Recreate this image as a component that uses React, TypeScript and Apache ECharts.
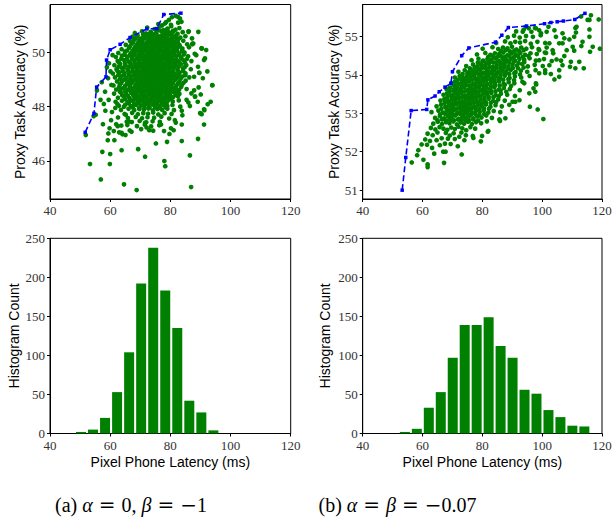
import React, { useEffect, useRef } from "react";
import * as echarts from "echarts";

// ---------- tick labels ----------
const latencyTicks = [40, 60, 80, 100, 120];
const accTicksA = [46, 48, 50];
const accTicksB = [51, 52, 53, 54, 55];
const countTicks = [0, 50, 100, 150, 200, 250];

// ---------- (a) scatter: [latency ms, accuracy %] ----------
const scatterA: number[][] = [
  // top band
  [79.5,51.2],[80.5,51.3],[81.8,51.35],[82.6,51.1],[83.2,51.25],[80.2,51.02],[78.6,51.12],[82.6,51.31],[83.7,51.13],[78.2,51.07],[77.3,51.0],[76.0,51.05],
  // core rows
  [72.3,50.92],[74.8,50.86],[76.4,50.95],[77.6,50.82],[79.1,50.88],[80.3,50.97],[81.7,50.84],[83.0,50.9],
  [75.8,50.82],[78.5,50.83],[80.9,50.8],
  [68.2,50.72],[70.6,50.78],[71.9,50.7],[73.5,50.76],[75.1,50.71],[76.9,50.79],[78.3,50.68],[79.6,50.74],[81.0,50.77],[82.4,50.69],[84.1,50.75],[86.1,50.78],
  [71.0,50.67],[72.6,50.68],[74.0,50.67],[75.4,50.69],[77.5,50.67],[79.0,50.68],[80.4,50.66],
  [67.4,50.58],[69.1,50.62],[70.8,50.55],[72.0,50.63],[73.2,50.57],[74.4,50.64],[75.7,50.59],[76.8,50.61],[78.0,50.56],[79.3,50.65],[80.5,50.58],[81.8,50.62],[83.3,50.55],[85.0,50.6],[87.2,50.52],
  [68.4,50.52],[70.0,50.5],[71.4,50.53],[72.7,50.51],[74.0,50.52],[75.3,50.5],[76.5,50.53],[77.8,50.51],[79.1,50.52],[80.5,50.5],[81.9,50.53],
  [66.6,50.42],[68.0,50.47],[69.6,50.44],[70.9,50.49],[72.5,50.41],[73.8,50.46],[74.9,50.43],[76.1,50.48],[77.4,50.42],[78.7,50.47],[79.9,50.44],[81.2,50.4],[82.6,50.48],[84.3,50.43],[87.4,50.33],
  [67.6,50.37],[69.2,50.35],[70.6,50.38],[72.0,50.36],[73.3,50.37],[74.6,50.35],[75.9,50.38],[77.2,50.36],[78.5,50.37],[79.8,50.35],[81.1,50.38],[82.5,50.36],
  [65.2,50.28],[67.1,50.32],[68.8,50.27],[70.2,50.31],[71.4,50.26],[72.9,50.33],[74.1,50.29],[75.4,50.25],[76.6,50.34],[77.8,50.28],[79.2,50.31],[80.4,50.26],[81.7,50.33],[83.0,50.27],[85.6,50.3],[90.4,50.15],
  [66.5,50.22],[68.2,50.2],[69.8,50.23],[71.1,50.21],[72.4,50.22],[73.7,50.2],[75.0,50.23],[76.3,50.21],[77.6,50.22],[78.9,50.2],[80.2,50.23],[81.6,50.21],[83.2,50.22],
  [63.8,50.12],[66.3,50.17],[67.9,50.13],[69.4,50.18],[70.6,50.11],[71.8,50.16],[73.1,50.14],[74.5,50.19],[75.8,50.12],[77.0,50.17],[78.4,50.13],[79.7,50.18],[81.0,50.11],[82.3,50.16],[84.0,50.14],[86.2,50.19],[91.9,50.09],
  [65.6,50.07],[67.4,50.05],[69.0,50.08],[70.3,50.06],[71.6,50.07],[72.9,50.05],[74.2,50.08],[75.5,50.06],[76.8,50.07],[78.1,50.05],[79.4,50.08],[80.8,50.06],[82.2,50.07],[83.8,50.05],
  [62.7,49.98],[64.9,50.03],[66.8,49.97],[68.3,50.02],[69.9,49.99],[71.1,50.04],[72.4,49.96],[73.6,50.01],[74.8,49.98],[76.2,50.03],[77.5,49.97],[78.8,50.02],[80.1,49.99],[81.5,50.04],[82.9,49.96],[84.7,50.0],[88.1,49.95],
  [64.8,49.92],[66.5,49.9],[68.1,49.93],[69.5,49.91],[70.8,49.92],[72.1,49.9],[73.4,49.93],[74.7,49.91],[76.0,49.92],[77.3,49.9],[78.6,49.93],[79.9,49.91],[81.3,49.92],[82.8,49.9],[84.5,49.93],
  [61.9,49.83],[63.9,49.88],[65.7,49.84],[67.5,49.87],[69.0,49.82],[70.3,49.86],[71.6,49.83],[72.8,49.89],[74.0,49.84],[75.3,49.87],[76.5,49.82],[77.9,49.88],[79.2,49.85],[80.6,49.81],[82.0,49.87],[83.6,49.83],[85.9,49.86],[91.2,49.72],
  [63.7,49.77],[65.5,49.75],[67.2,49.78],[68.7,49.76],[70.1,49.77],[71.4,49.75],[72.7,49.78],[74.0,49.76],[75.3,49.77],[76.6,49.75],[77.9,49.78],[79.2,49.76],[80.6,49.77],[82.0,49.75],[83.6,49.78],[85.5,49.76],
  [62.5,49.68],[64.6,49.72],[66.2,49.66],[67.9,49.71],[69.5,49.69],[70.8,49.73],[72.0,49.67],[73.3,49.72],[74.6,49.68],[75.9,49.71],[77.1,49.66],[78.5,49.73],[79.8,49.69],[81.2,49.72],[82.6,49.67],[84.4,49.71],[87.0,49.68],
  [63.0,49.62],[64.9,49.6],[66.6,49.63],[68.2,49.61],[69.6,49.62],[70.9,49.6],[72.2,49.63],[73.5,49.61],[74.8,49.62],[76.1,49.6],[77.4,49.63],[78.7,49.61],[80.1,49.62],[81.5,49.6],[83.0,49.63],[84.9,49.61],
  [61.4,49.53],[63.3,49.57],[65.1,49.52],[66.9,49.56],[68.5,49.54],[69.9,49.58],[71.2,49.51],[72.6,49.56],[73.9,49.53],[75.1,49.57],[76.4,49.52],[77.7,49.56],[79.0,49.54],[80.4,49.58],[81.9,49.52],[83.5,49.56],[85.3,49.53],[89.2,49.47],
  [62.8,49.47],[64.6,49.45],[66.3,49.48],[67.9,49.46],[69.3,49.47],[70.6,49.45],[71.9,49.48],[73.2,49.46],[74.5,49.47],[75.8,49.45],[77.1,49.48],[78.4,49.46],[79.8,49.47],[81.2,49.45],[82.8,49.48],[84.8,49.46],
  [62.1,49.38],[64.0,49.42],[65.8,49.37],[67.4,49.41],[69.0,49.39],[70.4,49.43],[71.7,49.36],[73.0,49.41],[74.3,49.38],[75.6,49.42],[76.9,49.37],[78.2,49.41],[79.5,49.39],[80.9,49.43],[82.4,49.37],[84.2,49.41],[86.8,49.38],
  [62.4,49.32],[64.2,49.3],[65.9,49.33],[67.5,49.31],[68.9,49.32],[70.2,49.3],[71.5,49.33],[72.8,49.31],[74.1,49.32],[75.4,49.3],[76.7,49.33],[78.0,49.31],[79.4,49.32],[80.8,49.3],[82.4,49.33],[84.3,49.31],
  [60.9,49.22],[63.0,49.27],[64.8,49.23],[66.5,49.26],[68.1,49.24],[69.6,49.28],[70.9,49.21],[72.2,49.26],[73.5,49.23],[74.8,49.27],[76.1,49.22],[77.4,49.26],[78.7,49.24],[80.1,49.28],[81.6,49.21],[83.1,49.26],[85.0,49.23],[89.6,49.25],
  [62.7,49.17],[64.5,49.15],[66.2,49.18],[67.8,49.16],[69.2,49.17],[70.5,49.15],[71.8,49.18],[73.1,49.16],[74.4,49.17],[75.7,49.15],[77.0,49.18],[78.3,49.16],[79.7,49.17],[81.1,49.15],[82.8,49.18],[85.0,49.16],
  [61.6,49.08],[63.6,49.12],[65.4,49.07],[67.0,49.11],[68.7,49.09],[70.0,49.13],[71.4,49.06],[72.7,49.11],[74.0,49.08],[75.3,49.12],[76.6,49.07],[77.9,49.11],[79.3,49.09],[80.7,49.13],[82.2,49.07],[84.0,49.11],[86.3,49.08],
  [63.2,49.02],[65.0,49.0],[66.7,49.03],[68.2,49.01],[69.6,49.02],[70.9,49.0],[72.2,49.03],[73.5,49.01],[74.8,49.02],[76.1,49.0],[77.4,49.03],[78.8,49.01],[80.2,49.02],[81.7,49.0],[83.4,49.03],
  [62.3,48.93],[64.2,48.97],[66.0,48.92],[67.7,48.96],[69.2,48.94],[70.6,48.98],[71.9,48.91],[73.2,48.96],[74.6,48.93],[75.9,48.97],[77.2,48.92],[78.5,48.96],[79.9,48.94],[81.4,48.98],[83.0,48.92],[85.1,48.96],
  [63.7,48.87],[65.6,48.85],[67.2,48.88],[68.8,48.86],[70.2,48.87],[71.5,48.85],[72.8,48.88],[74.1,48.86],[75.4,48.87],[76.7,48.85],[78.0,48.88],[79.4,48.86],[80.9,48.87],[82.5,48.85],[84.4,48.88],
  [61.1,48.78],[63.2,48.82],[65.0,48.77],[66.7,48.81],[68.4,48.79],[69.8,48.83],[71.1,48.76],[72.4,48.81],[73.7,48.78],[75.0,48.82],[76.3,48.77],[77.6,48.81],[79.0,48.79],[80.5,48.83],[82.0,48.77],[83.8,48.81],[89.4,48.71],[94.0,48.79],
  [63.0,48.72],[64.8,48.7],[66.5,48.73],[68.1,48.71],[69.5,48.72],[70.8,48.7],[72.1,48.73],[73.4,48.71],[74.7,48.72],[76.0,48.7],[77.3,48.73],[78.7,48.71],[80.2,48.72],[81.8,48.7],[83.6,48.73],
  [62.0,48.63],[64.1,48.67],[65.9,48.62],[67.5,48.66],[69.1,48.64],[70.5,48.68],[71.8,48.61],[73.1,48.66],[74.4,48.63],[75.7,48.67],[77.0,48.62],[78.4,48.66],[79.8,48.64],[81.3,48.68],[82.9,48.62],[85.4,48.65],[87.9,48.6],
  [63.2,48.57],[65.0,48.55],[66.7,48.58],[68.3,48.56],[69.8,48.57],[71.1,48.55],[72.4,48.58],[73.7,48.56],[75.0,48.57],[76.3,48.55],[77.6,48.58],[79.0,48.56],[80.5,48.57],[82.1,48.55],
  [61.3,48.48],[63.5,48.52],[65.3,48.47],[67.0,48.51],[68.6,48.49],[70.1,48.53],[71.4,48.46],[72.8,48.51],[74.1,48.48],[75.5,48.52],[76.8,48.47],[78.2,48.51],[79.7,48.49],[81.2,48.53],[83.0,48.47],[87.0,48.49],
  [64.0,48.42],[65.9,48.4],[67.6,48.43],[69.2,48.41],[70.6,48.42],[71.9,48.4],[73.2,48.43],[74.5,48.41],[75.8,48.42],[77.1,48.4],[78.5,48.43],[80.0,48.41],[81.7,48.42],
  [62.6,48.33],[64.6,48.37],[66.4,48.32],[68.0,48.36],[69.6,48.34],[71.0,48.38],[72.3,48.31],[73.7,48.36],[75.1,48.33],[76.4,48.37],[77.8,48.32],[79.3,48.36],[80.8,48.34],[82.5,48.38],[85.4,48.25],[88.2,48.37],
  [65.0,48.27],[66.8,48.25],[68.5,48.28],[70.0,48.26],[71.4,48.27],[72.8,48.25],[74.2,48.28],[75.6,48.26],[77.0,48.27],[78.5,48.25],[80.1,48.28],
  [61.8,48.18],[63.9,48.22],[65.8,48.17],[67.5,48.21],[69.1,48.19],[70.6,48.23],[72.0,48.16],[73.4,48.21],[74.8,48.18],[76.2,48.22],[77.6,48.17],[79.1,48.21],[80.8,48.19],[82.8,48.23],[86.0,48.15],[93.4,48.18],
  [66.2,48.12],[68.0,48.1],[69.7,48.13],[71.2,48.11],[72.7,48.12],[74.1,48.1],[75.6,48.13],[77.1,48.11],[78.7,48.12],
  [62.9,48.03],[65.0,48.07],[66.9,48.02],[68.6,48.06],[70.2,48.04],[71.6,48.08],[73.0,48.01],[74.5,48.06],[76.0,48.03],[77.5,48.07],[79.0,48.02],[80.7,48.06],[83.3,48.0],[91.2,47.9],
  [67.5,47.97],[69.6,47.95],[71.4,47.98],[73.1,47.96],[74.9,47.97],[76.6,47.95],[78.4,47.98],
  [63.6,47.88],[66.1,47.92],[68.0,47.87],[69.7,47.91],[71.2,47.89],[72.7,47.93],[74.2,47.86],[75.7,47.91],[77.3,47.88],[79.0,47.92],[81.2,47.87],[89.9,47.76],
  [64.8,47.73],[67.3,47.77],[69.2,47.72],[71.0,47.76],[72.6,47.74],[74.3,47.78],[76.0,47.71],[78.1,47.76],[80.4,47.73],[84.0,47.68],
  [65.9,47.58],[68.5,47.62],[70.6,47.57],[72.4,47.61],[74.6,47.59],[77.0,47.63],[79.6,47.56],
  [67.2,47.43],[69.8,47.47],[72.0,47.42],[74.1,47.46],[76.5,47.44],[81.8,47.41],
  [65.7,47.32],[68.9,47.28],[71.5,47.33],[73.6,47.27],[76.3,47.31],
  [66.5,47.12],[70.3,47.17],[73.0,47.13],[77.9,47.1],[80.2,47.2],
  // left fringe
  [51.9,46.95],[54.5,47.65],[55.6,48.6],[56.8,48.25],[57.2,48.9],[57.9,48.1],[58.3,48.55],[58.9,49.45],[59.3,49.05],[59.6,49.6],[60.1,49.3],[60.4,48.8],[60.8,49.9],[61.7,47.95],[62.6,47.6],[63.7,47.3],[64.6,48.0],[65.2,47.7],[66.3,47.45],[59.8,47.2],[60.3,47.5],[61.2,47.1],[62.0,47.35],[63.0,47.05],[64.1,46.98],[65.1,46.95],[58.4,47.85],[59.5,48.25],[60.6,47.8],[62.4,48.1],[57.6,47.35],[55.2,47.7],
  // lower / right scattered points
  [62.5,47.28],[63.8,47.03],[67.1,47.07],[65.5,47.44],[71.6,47.4],[72.1,47.23],[74.3,47.11],[76.9,47.34],[79.7,46.99],[81.1,47.13],[81.5,47.5],[83.8,47.34],[83.8,47.85],[86.5,48.02],[90.4,47.72],[89.1,48.18],[91.3,47.87],[92.4,48.09],
  [89.3,50.76],[91.5,49.78],[93.9,48.79],[90.4,50.15],[87.3,50.3],[86.0,50.76],[87.6,50.33],[89.6,49.25],[88.2,48.37],[90.8,49.05],[92.3,49.3],[88.6,49.9],[87.9,49.1],[90.1,48.45],
  // outliers
  [53.3,45.88],[56.9,45.31],[57.4,46.33],[60.0,46.25],[59.9,45.88],[63.8,46.39],[64.6,45.13],[68.8,44.92],[69.3,46.43],[71.6,46.15],[75.2,46.64],[78.0,45.99],[78.3,45.8],[78.9,46.7],[83.8,46.73],[86.5,46.2],[86.9,45.03],[89.2,46.81],[91.2,47.34],[59.4,47.01],[61.4,46.76],[59.2,46.76],
];

// Pareto frontier of (a)
const frontierA: number[][] = [
  [51.7,47.05],[54.6,47.75],[55.5,48.72],[58.6,49.1],[58.8,49.72],[60.0,50.1],[63.3,50.3],[66.6,50.55],[72.2,50.87],[75.5,50.88],[77.8,51.4],[83.5,51.45],
];

// ---------- (b) scatter ----------
const scatterB: number[][] = [
  // lower fringe
  [56.4,51.72],[58.2,51.91],[58.6,52.04],[59.7,52.19],[60.3,51.79],[61.7,51.67],[61.7,51.6],[63.9,51.95],[64.7,52.3],[65.8,52.17],[66.9,52.0],[67.7,52.0],[67.2,51.71],[67.5,52.21],[70.8,52.33],[73.1,51.93],[77.0,52.36],[79.5,52.27],
  [61.5,52.18],[63.2,52.1],[69.4,52.2],[71.8,52.14],
  [60.9,52.32],[62.5,52.28],[66.4,52.35],[68.5,52.34],[72.3,52.39],[74.0,52.3],[76.8,52.41],
  [61.7,52.47],[63.4,52.43],[65.0,52.5],[67.8,52.49],[69.1,52.42],[70.4,52.48],[73.0,52.5],[74.5,52.43],[79.9,52.41],[82.0,52.54],
  [62.8,52.62],[64.3,52.58],[65.7,52.64],[67.0,52.6],[68.3,52.57],[69.6,52.63],[70.8,52.59],[72.0,52.65],[73.3,52.61],[74.6,52.56],[76.0,52.64],[77.6,52.6],[81.8,52.52],
  // core rows
  [63.6,52.73],[65.1,52.78],[66.5,52.72],[67.8,52.77],[69.0,52.74],[70.3,52.79],[71.5,52.71],[72.7,52.76],[73.9,52.73],[75.2,52.78],[76.5,52.72],[77.9,52.77],[79.6,52.74],[81.5,52.79],[85.7,52.84],[87.7,52.87],
  [65.0,52.82],[66.5,52.84],[67.9,52.81],[69.2,52.83],[70.5,52.82],[71.8,52.84],[73.0,52.81],[74.3,52.83],[75.6,52.82],[77.0,52.84],[78.6,52.81],
  [64.2,52.88],[65.8,52.93],[67.2,52.87],[68.5,52.92],[69.7,52.89],[70.9,52.94],[72.1,52.86],[73.3,52.91],[74.5,52.88],[75.7,52.93],[77.0,52.87],[78.3,52.92],[79.7,52.89],[81.3,52.94],[83.2,52.88],[85.9,52.8],
  [65.9,52.97],[67.5,52.99],[68.8,52.96],[70.0,52.98],[71.2,52.97],[72.5,52.99],[73.7,52.96],[75.0,52.98],[76.2,52.97],[77.5,52.99],[79.0,52.96],[80.6,52.98],
  [63.0,53.03],[65.3,53.07],[66.8,53.02],[68.1,53.06],[69.3,53.04],[70.5,53.08],[71.7,53.01],[72.9,53.06],[74.1,53.03],[75.3,53.07],[76.5,53.02],[77.8,53.06],[79.1,53.04],[80.5,53.08],[82.0,53.02],[83.8,53.06],[86.0,53.03],[90.1,53.08],[95.9,53.17],[98.5,53.1],
  [66.3,53.12],[67.9,53.14],[69.2,53.11],[70.4,53.13],[71.6,53.12],[72.8,53.14],[74.0,53.11],[75.2,53.13],[76.4,53.12],[77.7,53.14],[79.0,53.11],[80.5,53.13],[82.2,53.12],
  [64.7,53.18],[66.2,53.22],[67.6,53.17],[68.8,53.21],[70.0,53.19],[71.2,53.23],[72.4,53.16],[73.6,53.21],[74.8,53.18],[76.0,53.22],[77.2,53.17],[78.5,53.21],[79.8,53.19],[81.2,53.23],[82.7,53.17],[84.4,53.21],[86.5,53.18],[89.0,53.22],
  [67.4,53.27],[68.8,53.29],[70.0,53.26],[71.2,53.28],[72.4,53.27],[73.6,53.29],[74.8,53.26],[76.0,53.28],[77.2,53.27],[78.5,53.29],[79.8,53.26],[81.2,53.28],[82.8,53.27],[84.6,53.29],
  [66.0,53.33],[67.3,53.37],[68.5,53.32],[69.7,53.36],[70.9,53.34],[72.1,53.38],[73.3,53.31],[74.5,53.36],[75.7,53.33],[76.9,53.37],[78.1,53.32],[79.4,53.36],[80.7,53.34],[82.1,53.38],[83.6,53.32],[85.3,53.36],[87.5,53.33],[91.0,53.3],
  [68.3,53.42],[69.7,53.44],[70.9,53.41],[72.1,53.43],[73.3,53.42],[74.5,53.44],[75.7,53.41],[76.9,53.43],[78.1,53.42],[79.4,53.44],[80.7,53.41],[82.1,53.43],[83.7,53.42],[85.5,53.44],
  [67.0,53.48],[68.2,53.52],[69.4,53.47],[70.6,53.51],[71.8,53.49],[73.0,53.53],[74.2,53.46],[75.4,53.51],[76.6,53.48],[77.8,53.52],[79.0,53.47],[80.3,53.51],[81.6,53.49],[83.0,53.53],[84.5,53.47],[86.2,53.51],[88.3,53.48],[90.9,53.45],[97.7,53.56],
  [69.1,53.57],[70.5,53.59],[71.7,53.56],[72.9,53.58],[74.1,53.57],[75.3,53.59],[76.5,53.56],[77.7,53.58],[78.9,53.57],[80.2,53.59],[81.5,53.56],[82.9,53.58],[84.4,53.57],[86.1,53.59],[88.0,53.56],
  [68.0,53.63],[69.2,53.67],[70.4,53.62],[71.6,53.66],[72.8,53.64],[74.0,53.68],[75.2,53.61],[76.4,53.66],[77.6,53.63],[78.8,53.67],[80.0,53.62],[81.3,53.66],[82.6,53.64],[84.0,53.68],[85.5,53.62],[87.2,53.66],[89.2,53.63],[92.5,53.6],
  [70.6,53.72],[71.9,53.74],[73.1,53.71],[74.3,53.73],[75.5,53.72],[76.7,53.74],[77.9,53.71],[79.1,53.73],[80.3,53.72],[81.6,53.74],[82.9,53.71],[84.3,53.73],[85.8,53.72],[87.5,53.74],[89.6,53.71],
  [69.6,53.78],[70.8,53.82],[72.0,53.77],[73.2,53.81],[74.4,53.79],[75.6,53.83],[76.8,53.76],[78.0,53.81],[79.2,53.78],[80.4,53.82],[81.6,53.77],[82.9,53.81],[84.2,53.79],[85.6,53.83],[87.1,53.77],[88.8,53.81],[90.7,53.78],[93.4,53.82],[98.0,53.75],
  [71.8,53.87],[73.1,53.89],[74.3,53.86],[75.5,53.88],[76.7,53.87],[77.9,53.89],[79.1,53.86],[80.3,53.88],[81.5,53.87],[82.8,53.89],[84.1,53.86],[85.5,53.88],[87.0,53.87],[88.7,53.89],[90.6,53.86],
  [70.8,53.93],[72.4,53.97],[73.6,53.92],[74.8,53.96],[76.0,53.94],[77.2,53.98],[78.4,53.91],[79.6,53.96],[80.8,53.93],[82.0,53.97],[83.3,53.92],[84.6,53.96],[86.0,53.94],[87.5,53.98],[89.1,53.92],[90.9,53.96],[93.0,53.93],[95.8,53.97],[104.1,53.88],
  [73.4,54.02],[75.0,54.04],[76.3,54.01],[77.5,54.03],[78.7,54.02],[79.9,54.04],[81.1,54.01],[82.3,54.03],[83.5,54.02],[84.8,54.04],[86.1,54.01],[87.5,54.03],[89.0,54.02],[90.7,54.04],[92.6,54.01],
  [72.0,54.08],[74.1,54.12],[75.5,54.07],[76.8,54.11],[78.0,54.09],[79.2,54.13],[80.4,54.06],[81.6,54.11],[82.8,54.08],[84.0,54.12],[85.3,54.07],[86.6,54.11],[88.0,54.09],[89.5,54.13],[91.1,54.07],[92.9,54.11],[95.0,54.08],[97.8,54.12],[101.0,54.05],[105.7,54.12],
  [75.8,54.17],[77.4,54.19],[78.7,54.16],[79.9,54.18],[81.1,54.17],[82.3,54.19],[83.5,54.16],[84.7,54.18],[86.0,54.17],[87.3,54.19],[88.7,54.16],[90.2,54.18],[91.9,54.17],[93.8,54.19],
  [74.6,54.23],[76.9,54.27],[78.3,54.22],[79.6,54.26],[80.9,54.24],[82.2,54.28],[83.5,54.21],[84.8,54.26],[86.1,54.23],[87.4,54.27],[88.7,54.22],[90.1,54.26],[91.6,54.24],[93.3,54.28],[95.2,54.22],[97.5,54.26],[100.2,54.23],[106.8,54.25],[111.1,54.17],[113.9,54.17],
  [78.5,54.32],[80.0,54.34],[81.3,54.31],[82.5,54.33],[83.7,54.32],[85.0,54.34],[86.3,54.31],[87.6,54.33],[89.0,54.32],[90.5,54.34],[92.1,54.31],[94.0,54.33],
  [76.4,54.38],[78.7,54.42],[80.3,54.37],[81.7,54.41],[83.0,54.39],[84.3,54.43],[85.6,54.36],[86.9,54.41],[88.2,54.38],[89.5,54.42],[90.9,54.37],[92.4,54.41],[94.0,54.39],[95.8,54.43],[97.9,54.37],[100.6,54.41],[103.2,54.36],[109.6,54.34],
  [82.0,54.47],[83.5,54.49],[84.9,54.46],[86.2,54.48],[87.6,54.47],[89.0,54.49],[90.5,54.46],[92.0,54.48],[93.6,54.47],[95.4,54.49],
  [78.2,54.53],[81.0,54.57],[82.7,54.52],[84.2,54.56],[85.6,54.54],[87.0,54.58],[88.4,54.51],[89.8,54.56],[91.2,54.53],[92.7,54.57],[94.3,54.52],[96.1,54.56],[98.2,54.54],[100.9,54.58],[103.5,54.64],[108.2,54.64],[110.7,54.63],[116.0,54.6],
  [86.2,54.62],[87.8,54.64],[89.2,54.61],[90.7,54.63],[92.2,54.62],[93.8,54.64],
  [80.1,54.68],[83.4,54.72],[85.3,54.67],[86.9,54.71],[88.4,54.69],[89.9,54.73],[91.4,54.66],[93.0,54.71],[94.7,54.68],[96.6,54.72],[98.8,54.67],[101.5,54.71],[105.7,54.82],[106.8,54.82],[113.1,54.75],[119.3,54.68],
  [84.6,54.83],[87.6,54.87],[89.4,54.82],[91.0,54.86],[92.6,54.84],[94.3,54.88],[96.2,54.81],[98.4,54.86],[101.0,54.83],[113.5,54.86],
  [88.5,54.98],[90.6,55.02],[92.5,54.97],[94.6,55.01],[96.9,54.99],[99.5,55.03],[104.6,54.99],[107.4,54.95],
  [91.3,55.13],[93.8,55.17],[96.4,55.12],[99.0,55.16],[111.3,55.1],[115.8,55.18],
  [94.5,55.25],[97.6,55.22],[102.1,55.25],[111.1,55.22],[118.9,55.44],[115.8,55.43],[113.0,55.52],
  // right scattered points
  [99.0,54.64],[101.3,54.57],[102.4,54.82],[103.7,54.56],[104.8,54.4],[106.3,54.37],[105.7,53.95],[102.9,54.02],[101.0,54.12],[99.0,54.04],[97.9,53.78],[97.1,53.65],[95.7,53.52],[94.0,53.78],[92.4,53.34],[90.1,53.3],[109.3,54.21],[107.4,54.49],[112.4,54.34],[110.2,54.73],[109.1,54.92],[106.8,55.08],[104.1,55.16],[101.5,55.12],[99.6,55.08],[97.9,55.21],[95.5,55.21],[93.5,55.12],[111.5,55.25],[110.7,54.99],[116.9,54.73],[115.8,54.99],[115.2,55.43],[116.3,55.55],[99.0,54.38],[102.4,54.25],[100.4,52.85],
];

// Pareto frontier of (b)
const frontierB: number[][] = [
  [53.2,51.0],[54.4,51.85],[56.2,53.07],[61.4,53.1],[61.8,53.35],[64.2,53.45],[65.6,53.56],[67.5,53.68],[69.5,53.78],[70.0,54.08],[73.1,54.5],[75.5,54.7],[84.4,54.85],[86.5,55.03],[88.7,55.23],[94.8,55.27],[100.8,55.33],[102.9,55.36],[105.0,55.38],[107.1,55.4],[110.9,55.44],[114.3,55.6],
];

// ---------- histograms ----------
const histBinsA = [50.3, 54.3, 58.3, 62.3, 66.3, 70.3, 74.3, 78.3, 82.3, 86.3, 90.3, 94.3];
const histCountsA = [2, 5, 20, 53, 104, 192, 238, 183, 135, 42, 27, 4];
const histBinsB = [54.1, 58.1, 62.1, 66.1, 70.1, 74.1, 78.1, 82.1, 86.1, 90.1, 94.1, 98.1, 102.1, 106.1, 110.1, 114.1];
const histCountsB = [2, 6, 33, 53, 97, 139, 139, 149, 112, 97, 56, 51, 30, 21, 10, 9];

const latencyName = "Pixel Phone Latency (ms)";
const accName = "Proxy Task Accuracy (%)";
const countName = "Histogram Count";

const GREEN = "#008000";
const BLUE = "#0000ff";
const SERIF = "'Liberation Serif', 'DejaVu Serif', serif";
const SANS = "'Liberation Sans', Arial, sans-serif";
const TICK_COLOR = "#333";

function xAxisFor(gridIndex: number, withName: boolean, margin: number) {
  return {
    type: "value",
    gridIndex,
    min: latencyTicks[0],
    max: latencyTicks[latencyTicks.length - 1],
    interval: 20,
    axisLine: { show: true, lineStyle: { color: "#000", width: 1 } },
    axisTick: { show: true, inside: false, length: 3, lineStyle: { color: "#000" } },
    axisLabel: {
      show: true,
      margin,
      fontFamily: SERIF,
      fontSize: 13,
      color: TICK_COLOR,
      showMinLabel: true,
      showMaxLabel: true,
    },
    splitLine: { show: false },
    name: withName ? latencyName : "",
    nameLocation: "middle",
    nameGap: 21,
    nameTextStyle: { fontFamily: SANS, fontSize: 14, color: "#000" },
  };
}

function yAxisFor(gridIndex: number, opts: any) {
  const base: any = {
    type: "value",
    gridIndex,
    min: opts.min,
    max: opts.max,
    axisLine: { show: true, lineStyle: { color: "#000", width: 1 } },
    axisTick: { show: true, inside: false, length: 3, lineStyle: { color: "#000" } },
    axisLabel: {
      show: true,
      margin: 5,
      fontFamily: SERIF,
      fontSize: 13,
      color: TICK_COLOR,
      showMinLabel: true,
      showMaxLabel: true,
    },
    splitLine: { show: false },
    name: opts.name,
    nameLocation: "middle",
    nameGap: opts.nameGap,
    nameTextStyle: { fontFamily: SANS, fontSize: 14, color: "#000" },
  };
  if (opts.ticks) {
    base.axisLabel.customValues = opts.ticks;
    base.axisTick.customValues = opts.ticks;
  } else {
    base.interval = opts.interval;
  }
  return base;
}

export default function App() {
  const ref = useRef<HTMLDivElement>(null);

  useEffect(() => {
    if (!ref.current) return;
    const chart = echarts.init(ref.current, undefined, { renderer: "svg" });

    const gridBase = {
      show: true,
      borderColor: "#000",
      borderWidth: 1,
      backgroundColor: "transparent",
      containLabel: false,
      outerBoundsMode: "none",
    };

    const capRich = {
      i: { fontStyle: "italic", fontFamily: SERIF, fontSize: 20, fill: "#000", color: "#000" },
      e: { fontFamily: "'DejaVu Serif', serif", fontSize: 20, fill: "#000", color: "#000", padding: [0, 6, 0, 6] },
      m: { fontFamily: "'DejaVu Serif', serif", fontSize: 20, fill: "#000", color: "#000" },
    };

    const scatterSeries = (idx: number, data: number[][]) => ({
      type: "scatter",
      xAxisIndex: idx,
      yAxisIndex: idx,
      data,
      symbolSize: 4.7,
      itemStyle: { color: GREEN, opacity: 1 },
      z: 2,
    });
    const frontierSeries = (idx: number, data: number[][]) => ({
      type: "line",
      xAxisIndex: idx,
      yAxisIndex: idx,
      data,
      symbol: "rect",
      symbolSize: 3.5,
      showSymbol: true,
      itemStyle: { color: BLUE },
      lineStyle: { color: BLUE, width: 1.6, type: [6, 3] },
      z: 3,
    });
    const histSeries = (idx: number, bins: number[], counts: number[]) => ({
      type: "bar",
      xAxisIndex: idx,
      yAxisIndex: idx,
      data: bins.map((c, i) => [c, counts[i]]),
      barWidth: 10,
      itemStyle: { color: GREEN },
    });

    const option: any = {
      animation: false,
      backgroundColor: "#fff",
      grid: [
        { ...gridBase, left: 50, top: 4.5, width: 240.7, height: 194.5 },
        { ...gridBase, left: 362.7, top: 4.5, width: 239.3, height: 194.5 },
        { ...gridBase, left: 50, top: 238.3, width: 240.7, height: 195.2 },
        { ...gridBase, left: 362.7, top: 238.3, width: 239.3, height: 195.2 },
      ],
      xAxis: [
        xAxisFor(0, false, 5),
        xAxisFor(1, false, 5),
        xAxisFor(2, true, 5.5),
        xAxisFor(3, true, 5.5),
      ],
      yAxis: [
        yAxisFor(0, { min: 44.59, max: 51.77, ticks: accTicksA, name: accName, nameGap: 23 }),
        yAxisFor(1, { min: 50.77, max: 55.83, ticks: accTicksB, name: accName, nameGap: 20.5 }),
        yAxisFor(2, { min: countTicks[0], max: countTicks[countTicks.length - 1], interval: 50, name: countName, nameGap: 29 }),
        yAxisFor(3, { min: countTicks[0], max: countTicks[countTicks.length - 1], interval: 50, name: countName, nameGap: 30.5 }),
      ],
      series: [
        scatterSeries(0, scatterA),
        frontierSeries(0, frontierA),
        scatterSeries(1, scatterB),
        frontierSeries(1, frontierB),
        histSeries(2, histBinsA, histCountsA),
        histSeries(3, histBinsB, histCountsB),
      ],
      graphic: [
        {
          type: "text",
          x: 131,
          y: 505,
          style: {
            text: "(a) {i|α}{e|=}0, {i|β}{e|=}{m|−}1",
            rich: capRich,
            fontFamily: SERIF,
            fontSize: 20,
            fill: "#000",
            align: "center",
            verticalAlign: "middle",
          },
        },
        {
          type: "text",
          x: 397.5,
          y: 505,
          style: {
            text: "(b) {i|α}{e|=}{i|β}{e|=}{m|−}0.07",
            rich: capRich,
            fontFamily: SERIF,
            fontSize: 20,
            fill: "#000",
            align: "center",
            verticalAlign: "middle",
          },
        },
      ],
    };

    chart.setOption(option);
    return () => chart.dispose();
  }, []);

  return (
    <div
      ref={ref}
      style={{ position: "absolute", left: 0, top: 0, width: 612, height: 519, background: "#fff" }}
    />
  );
}
